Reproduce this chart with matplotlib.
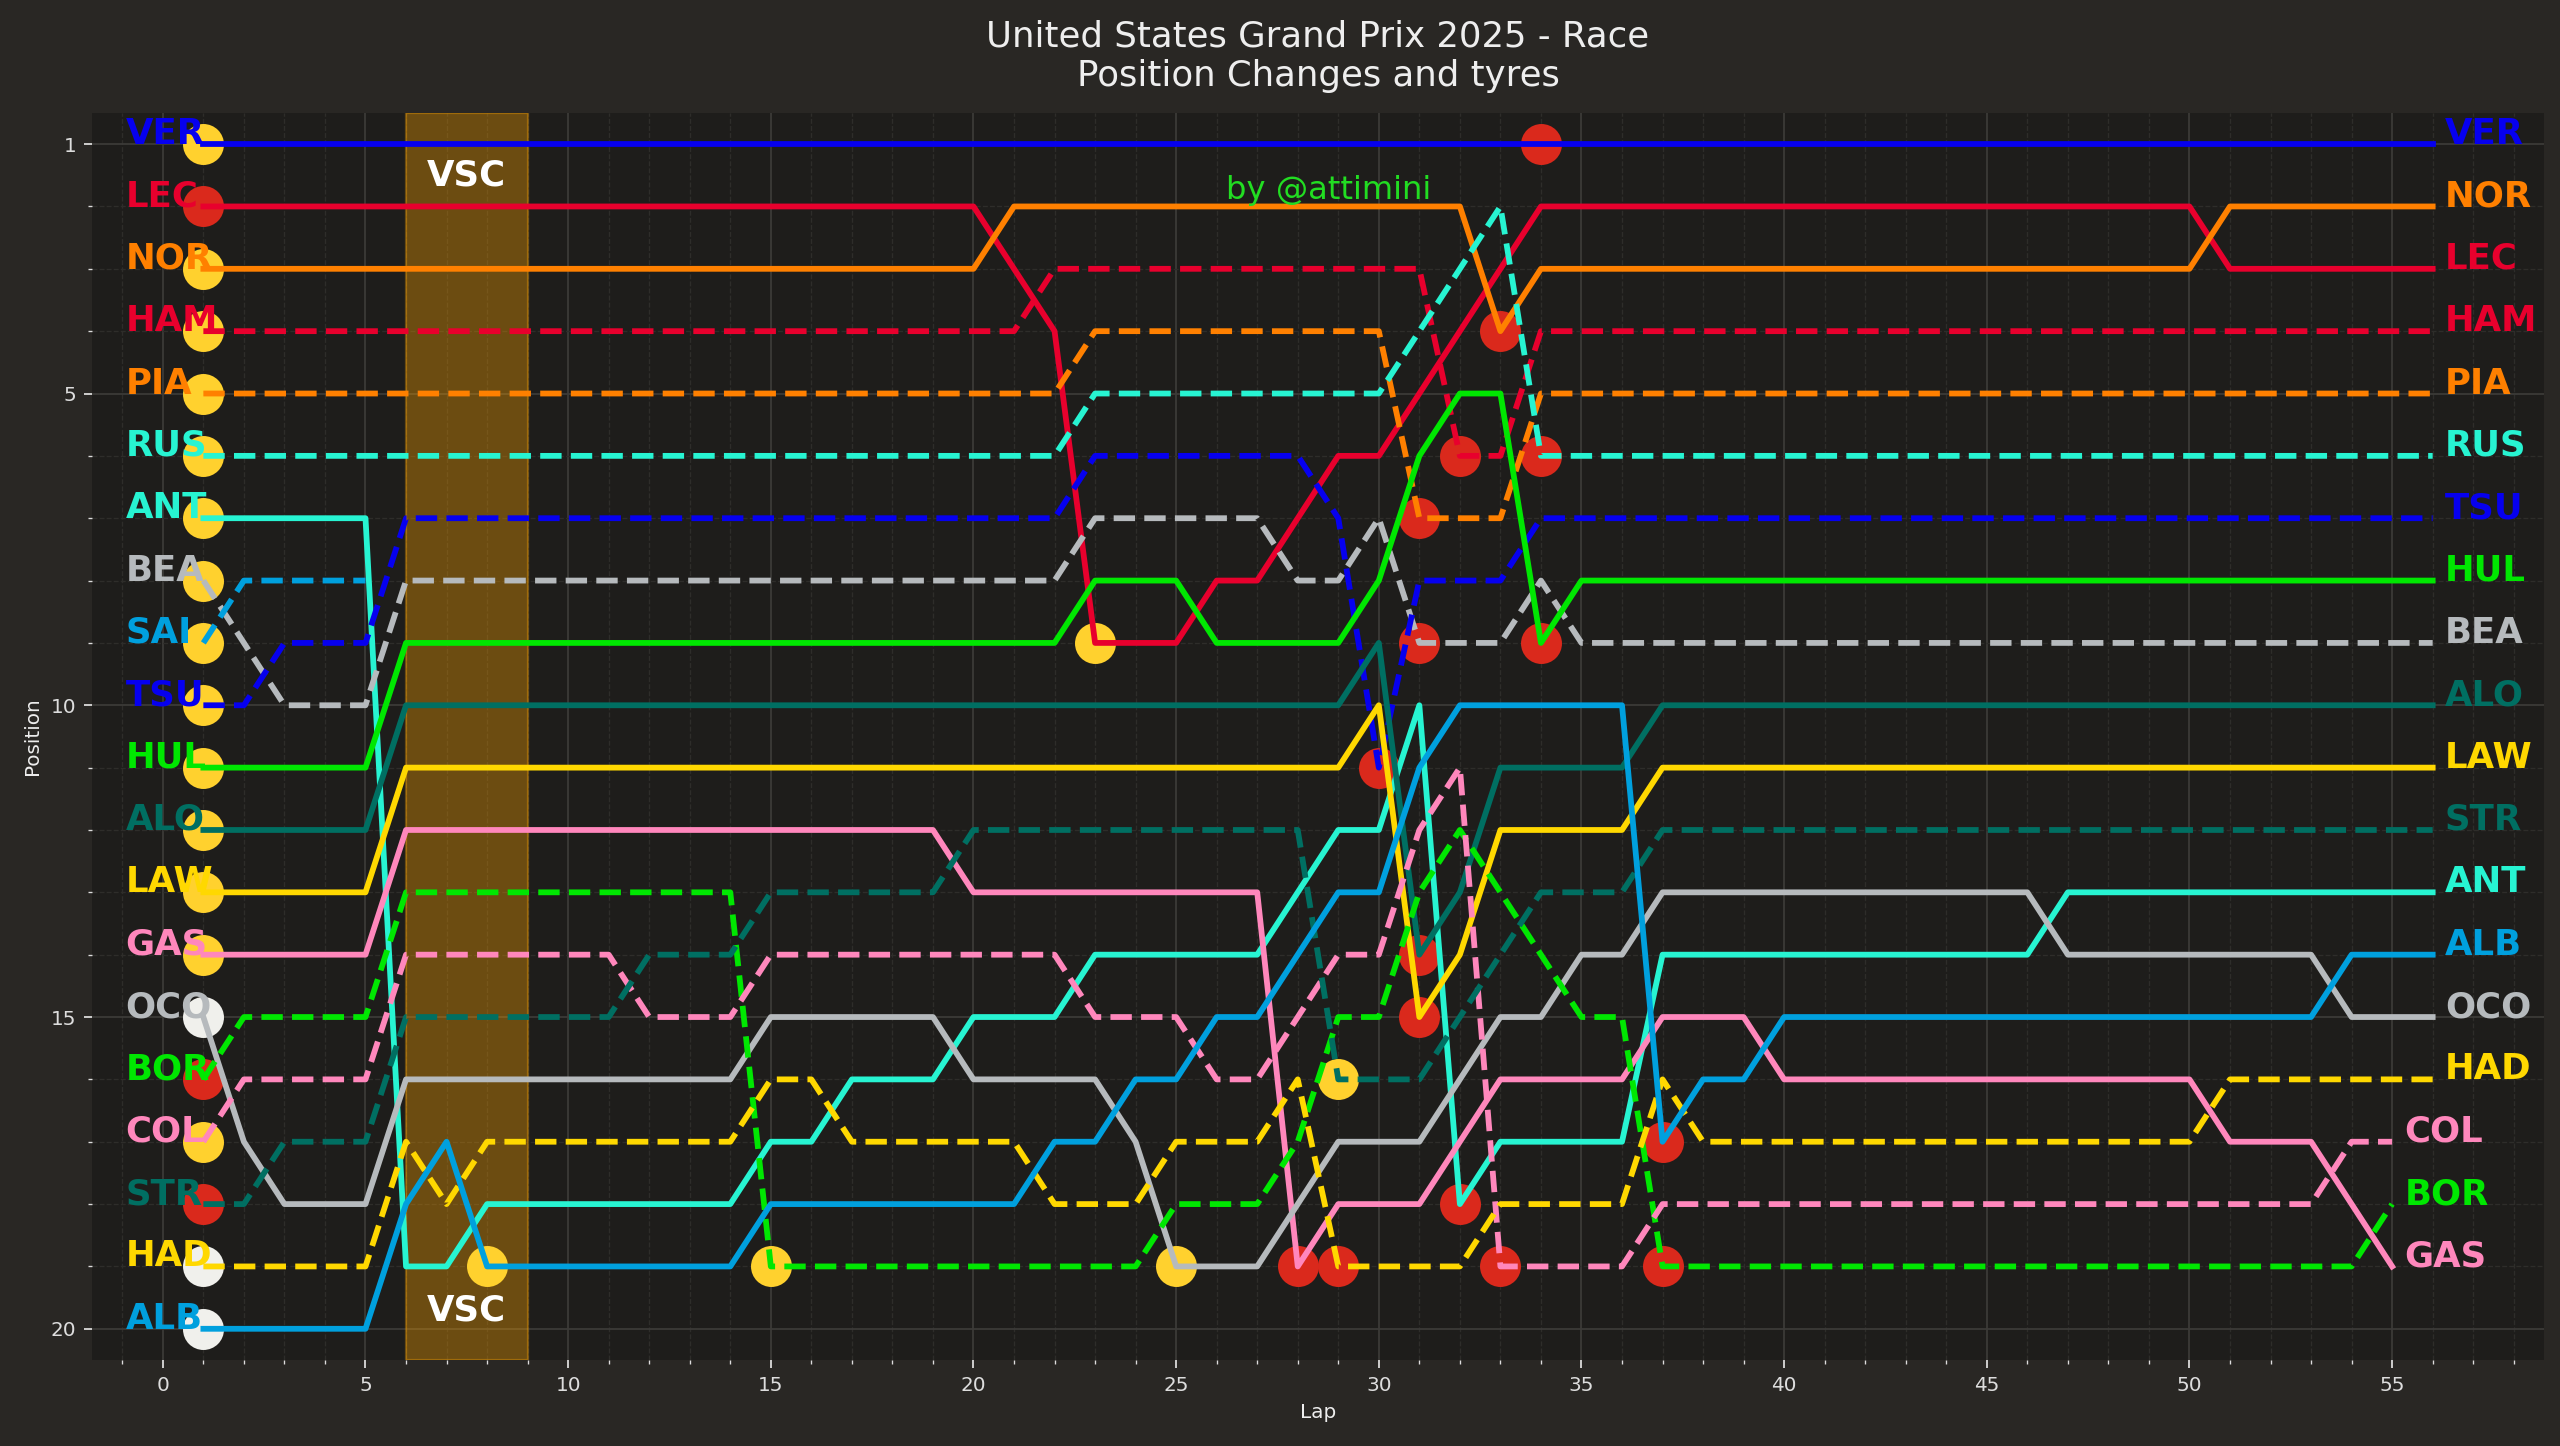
import matplotlib
matplotlib.use('Agg')
import matplotlib.pyplot as plt
from matplotlib.ticker import MultipleLocator

# Lap-by-lap positions (lap 1 .. last lap completed)
VER = [1, 1, 1, 1, 1, 1, 1, 1, 1, 1,
       1, 1, 1, 1, 1, 1, 1, 1, 1, 1,
       1, 1, 1, 1, 1, 1, 1, 1, 1, 1,
       1, 1, 1, 1, 1, 1, 1, 1, 1, 1,
       1, 1, 1, 1, 1, 1, 1, 1, 1, 1,
       1, 1, 1, 1, 1, 1]
LEC = [2, 2, 2, 2, 2, 2, 2, 2, 2, 2,
       2, 2, 2, 2, 2, 2, 2, 2, 2, 2,
       3, 4, 9, 9, 9, 8, 8, 7, 6, 6,
       5, 4, 3, 2, 2, 2, 2, 2, 2, 2,
       2, 2, 2, 2, 2, 2, 2, 2, 2, 2,
       3, 3, 3, 3, 3, 3]
NOR = [3, 3, 3, 3, 3, 3, 3, 3, 3, 3,
       3, 3, 3, 3, 3, 3, 3, 3, 3, 3,
       2, 2, 2, 2, 2, 2, 2, 2, 2, 2,
       2, 2, 4, 3, 3, 3, 3, 3, 3, 3,
       3, 3, 3, 3, 3, 3, 3, 3, 3, 3,
       2, 2, 2, 2, 2, 2]
HAM = [4, 4, 4, 4, 4, 4, 4, 4, 4, 4,
       4, 4, 4, 4, 4, 4, 4, 4, 4, 4,
       4, 3, 3, 3, 3, 3, 3, 3, 3, 3,
       3, 6, 6, 4, 4, 4, 4, 4, 4, 4,
       4, 4, 4, 4, 4, 4, 4, 4, 4, 4,
       4, 4, 4, 4, 4, 4]
PIA = [5, 5, 5, 5, 5, 5, 5, 5, 5, 5,
       5, 5, 5, 5, 5, 5, 5, 5, 5, 5,
       5, 5, 4, 4, 4, 4, 4, 4, 4, 4,
       7, 7, 7, 5, 5, 5, 5, 5, 5, 5,
       5, 5, 5, 5, 5, 5, 5, 5, 5, 5,
       5, 5, 5, 5, 5, 5]
RUS = [6, 6, 6, 6, 6, 6, 6, 6, 6, 6,
       6, 6, 6, 6, 6, 6, 6, 6, 6, 6,
       6, 6, 5, 5, 5, 5, 5, 5, 5, 5,
       4, 3, 2, 6, 6, 6, 6, 6, 6, 6,
       6, 6, 6, 6, 6, 6, 6, 6, 6, 6,
       6, 6, 6, 6, 6, 6]
ANT = [7, 7, 7, 7, 7, 19, 19, 18, 18, 18,
       18, 18, 18, 18, 17, 17, 16, 16, 16, 15,
       15, 15, 14, 14, 14, 14, 14, 13, 12, 12,
       10, 18, 17, 17, 17, 17, 14, 14, 14, 14,
       14, 14, 14, 14, 14, 14, 13, 13, 13, 13,
       13, 13, 13, 13, 13, 13]
BEA = [8, 9, 10, 10, 10, 8, 8, 8, 8, 8,
       8, 8, 8, 8, 8, 8, 8, 8, 8, 8,
       8, 8, 7, 7, 7, 7, 7, 8, 8, 7,
       9, 9, 9, 8, 9, 9, 9, 9, 9, 9,
       9, 9, 9, 9, 9, 9, 9, 9, 9, 9,
       9, 9, 9, 9, 9, 9]
SAI = [9, 8, 8, 8, 8]
TSU = [10, 10, 9, 9, 9, 7, 7, 7, 7, 7,
       7, 7, 7, 7, 7, 7, 7, 7, 7, 7,
       7, 7, 6, 6, 6, 6, 6, 6, 7, 11,
       8, 8, 8, 7, 7, 7, 7, 7, 7, 7,
       7, 7, 7, 7, 7, 7, 7, 7, 7, 7,
       7, 7, 7, 7, 7, 7]
HUL = [11, 11, 11, 11, 11, 9, 9, 9, 9, 9,
       9, 9, 9, 9, 9, 9, 9, 9, 9, 9,
       9, 9, 8, 8, 8, 9, 9, 9, 9, 8,
       6, 5, 5, 9, 8, 8, 8, 8, 8, 8,
       8, 8, 8, 8, 8, 8, 8, 8, 8, 8,
       8, 8, 8, 8, 8, 8]
ALO = [12, 12, 12, 12, 12, 10, 10, 10, 10, 10,
       10, 10, 10, 10, 10, 10, 10, 10, 10, 10,
       10, 10, 10, 10, 10, 10, 10, 10, 10, 9,
       14, 13, 11, 11, 11, 11, 10, 10, 10, 10,
       10, 10, 10, 10, 10, 10, 10, 10, 10, 10,
       10, 10, 10, 10, 10, 10]
LAW = [13, 13, 13, 13, 13, 11, 11, 11, 11, 11,
       11, 11, 11, 11, 11, 11, 11, 11, 11, 11,
       11, 11, 11, 11, 11, 11, 11, 11, 11, 10,
       15, 14, 12, 12, 12, 12, 11, 11, 11, 11,
       11, 11, 11, 11, 11, 11, 11, 11, 11, 11,
       11, 11, 11, 11, 11, 11]
GAS = [14, 14, 14, 14, 14, 12, 12, 12, 12, 12,
       12, 12, 12, 12, 12, 12, 12, 12, 12, 13,
       13, 13, 13, 13, 13, 13, 13, 19, 18, 18,
       18, 17, 16, 16, 16, 16, 15, 15, 15, 16,
       16, 16, 16, 16, 16, 16, 16, 16, 16, 16,
       17, 17, 17, 18, 19]
OCO = [15, 17, 18, 18, 18, 16, 16, 16, 16, 16,
       16, 16, 16, 16, 15, 15, 15, 15, 15, 16,
       16, 16, 16, 17, 19, 19, 19, 18, 17, 17,
       17, 16, 15, 15, 14, 14, 13, 13, 13, 13,
       13, 13, 13, 13, 13, 13, 14, 14, 14, 14,
       14, 14, 14, 15, 15, 15]
BOR = [16, 15, 15, 15, 15, 13, 13, 13, 13, 13,
       13, 13, 13, 13, 19, 19, 19, 19, 19, 19,
       19, 19, 19, 19, 18, 18, 18, 17, 15, 15,
       13, 12, 13, 14, 15, 15, 19, 19, 19, 19,
       19, 19, 19, 19, 19, 19, 19, 19, 19, 19,
       19, 19, 19, 19, 18]
COL = [17, 16, 16, 16, 16, 14, 14, 14, 14, 14,
       14, 15, 15, 15, 14, 14, 14, 14, 14, 14,
       14, 14, 15, 15, 15, 16, 16, 15, 14, 14,
       12, 11, 19, 19, 19, 19, 18, 18, 18, 18,
       18, 18, 18, 18, 18, 18, 18, 18, 18, 18,
       18, 18, 18, 17, 17]
STR = [18, 18, 17, 17, 17, 15, 15, 15, 15, 15,
       15, 14, 14, 14, 13, 13, 13, 13, 13, 12,
       12, 12, 12, 12, 12, 12, 12, 12, 16, 16,
       16, 15, 14, 13, 13, 13, 12, 12, 12, 12,
       12, 12, 12, 12, 12, 12, 12, 12, 12, 12,
       12, 12, 12, 12, 12, 12]
HAD = [19, 19, 19, 19, 19, 17, 18, 17, 17, 17,
       17, 17, 17, 17, 16, 16, 17, 17, 17, 17,
       17, 18, 18, 18, 17, 17, 17, 16, 19, 19,
       19, 19, 18, 18, 18, 18, 16, 17, 17, 17,
       17, 17, 17, 17, 17, 17, 17, 17, 17, 17,
       16, 16, 16, 16, 16, 16]
ALB = [20, 20, 20, 20, 20, 18, 17, 19, 19, 19,
       19, 19, 19, 19, 18, 18, 18, 18, 18, 18,
       18, 17, 17, 16, 16, 15, 15, 14, 13, 13,
       11, 10, 10, 10, 10, 10, 17, 16, 16, 15,
       15, 15, 15, 15, 15, 15, 15, 15, 15, 15,
       15, 15, 15, 14, 14, 14]

# grid order
drivers = ['VER', 'LEC', 'NOR', 'HAM', 'PIA', 'RUS', 'ANT', 'BEA', 'SAI', 'TSU',
           'HUL', 'ALO', 'LAW', 'GAS', 'OCO', 'BOR', 'COL', 'STR', 'HAD', 'ALB']
positions = {'VER': VER, 'LEC': LEC, 'NOR': NOR, 'HAM': HAM, 'PIA': PIA,
             'RUS': RUS, 'ANT': ANT, 'BEA': BEA, 'SAI': SAI, 'TSU': TSU,
             'HUL': HUL, 'ALO': ALO, 'LAW': LAW, 'GAS': GAS, 'OCO': OCO,
             'BOR': BOR, 'COL': COL, 'STR': STR, 'HAD': HAD, 'ALB': ALB}

# starting compounds, same order as drivers
start_tyres = ['MEDIUM', 'SOFT', 'MEDIUM', 'MEDIUM', 'MEDIUM', 'MEDIUM', 'MEDIUM',
               'MEDIUM', 'MEDIUM', 'MEDIUM', 'MEDIUM', 'MEDIUM', 'MEDIUM', 'MEDIUM',
               'HARD', 'SOFT', 'MEDIUM', 'SOFT', 'HARD', 'HARD']

# pit stops: driver, lap, new compound
pit_drivers = ['ALB', 'BOR', 'LEC', 'OCO', 'GAS', 'HAD', 'STR', 'TSU', 'PIA', 'BEA',
               'ALO', 'LAW', 'HAM', 'ANT', 'NOR', 'COL', 'VER', 'RUS', 'HUL', 'ALB',
               'BOR']
pit_laps = [8, 15, 23, 25, 28, 29, 29, 30, 31, 31,
            31, 31, 32, 32, 33, 33, 34, 34, 34, 37,
            37]
pit_tyres = ['MEDIUM', 'MEDIUM', 'MEDIUM', 'MEDIUM', 'SOFT', 'SOFT', 'MEDIUM', 'SOFT',
             'SOFT', 'SOFT', 'SOFT', 'SOFT', 'SOFT', 'SOFT', 'SOFT', 'SOFT', 'SOFT',
             'SOFT', 'SOFT', 'SOFT', 'SOFT']

vsc_start, vsc_end = 6, 9

# styling
styles = {'VER': ('#0600EF', '-'), 'TSU': ('#0600EF', '--'),
          'LEC': ('#E8002D', '-'), 'HAM': ('#E8002D', '--'),
          'NOR': ('#FF8000', '-'), 'PIA': ('#FF8000', '--'),
          'ANT': ('#27F4D2', '-'), 'RUS': ('#27F4D2', '--'),
          'OCO': ('#B6BABD', '-'), 'BEA': ('#B6BABD', '--'),
          'ALB': ('#00A0DE', '-'), 'SAI': ('#00A0DE', '--'),
          'HUL': ('#00E701', '-'), 'BOR': ('#00E701', '--'),
          'ALO': ('#006F62', '-'), 'STR': ('#006F62', '--'),
          'LAW': ('#FFD800', '-'), 'HAD': ('#FFD800', '--'),
          'GAS': ('#FF87BC', '-'), 'COL': ('#FF87BC', '--')}
tyre_colors = {'SOFT': '#DA291C', 'MEDIUM': '#FFD12E', 'HARD': '#F0F0EC'}

fig = plt.figure(figsize=(16, 9.0375), dpi=160, facecolor='#292724')
ax = fig.add_axes([0.0359, 0.0595, 0.9579, 0.8624])
ax.set_facecolor('#1E1D1B')

ax.axvspan(vsc_start, vsc_end, color='orange', alpha=0.35, zorder=1)

for d, tyre in zip(drivers, start_tyres):
    ax.scatter(1, positions[d][0], s=340, color=tyre_colors[tyre], zorder=2, lw=0)

for d, lap, tyre in zip(pit_drivers, pit_laps, pit_tyres):
    ax.scatter(lap, positions[d][lap - 1], s=340, color=tyre_colors[tyre], zorder=2, lw=0)

for d in drivers:
    pos = positions[d]
    col, ls = styles[d]
    lap_nums = list(range(1, len(pos) + 1))
    ax.plot(lap_nums, pos, color=col, ls=ls, lw=2.6, zorder=3)
    ax.text(-0.92, pos[0], d, color=col, fontsize=16, fontweight='bold',
            ha='left', va='baseline', zorder=4)
    if len(pos) > 50:
        ax.text(lap_nums[-1] + 0.3, pos[-1], d, color=col, fontsize=16,
                fontweight='bold', ha='left', va='baseline', zorder=4)

mid = (vsc_start + vsc_end) / 2
ax.text(mid, 1.5, 'VSC', color='white', fontsize=16, fontweight='bold',
        ha='center', va='center', zorder=4)
ax.text(mid, 19.7, 'VSC', color='white', fontsize=16, fontweight='bold',
        ha='center', va='center', zorder=4)
ax.text(28.77, 1.75, 'by @attimini', color='#22DD22', fontsize=14.5,
        ha='center', va='center', zorder=4)

ax.set_xlim(-1.75, 58.75)
ax.set_ylim(20.5, 0.5)
ax.xaxis.set_major_locator(MultipleLocator(5))
ax.xaxis.set_minor_locator(MultipleLocator(1))
ax.set_yticks([1, 5, 10, 15, 20])
ax.yaxis.set_minor_locator(MultipleLocator(1))
ax.tick_params(which='both', colors='#DDDDDD', labelsize=9)
ax.tick_params(which='minor', length=2)
ax.grid(which='major', color='#3C3B38', lw=0.8)
ax.grid(which='minor', color='#2E2D2A', lw=0.6, ls='--')
ax.set_axisbelow(True)
for sp in ax.spines.values():
    sp.set_visible(False)

ax.set_xlabel('Lap', color='#EEEEEE', fontsize=9)
ax.set_ylabel('Position', color='#EEEEEE', fontsize=9)
ax.set_title('United States Grand Prix 2025 - Race\nPosition Changes and tyres',
             color='#EEEEEE', fontsize=16, pad=12)

fig.savefig('out.png', dpi=160, facecolor=fig.get_facecolor())
